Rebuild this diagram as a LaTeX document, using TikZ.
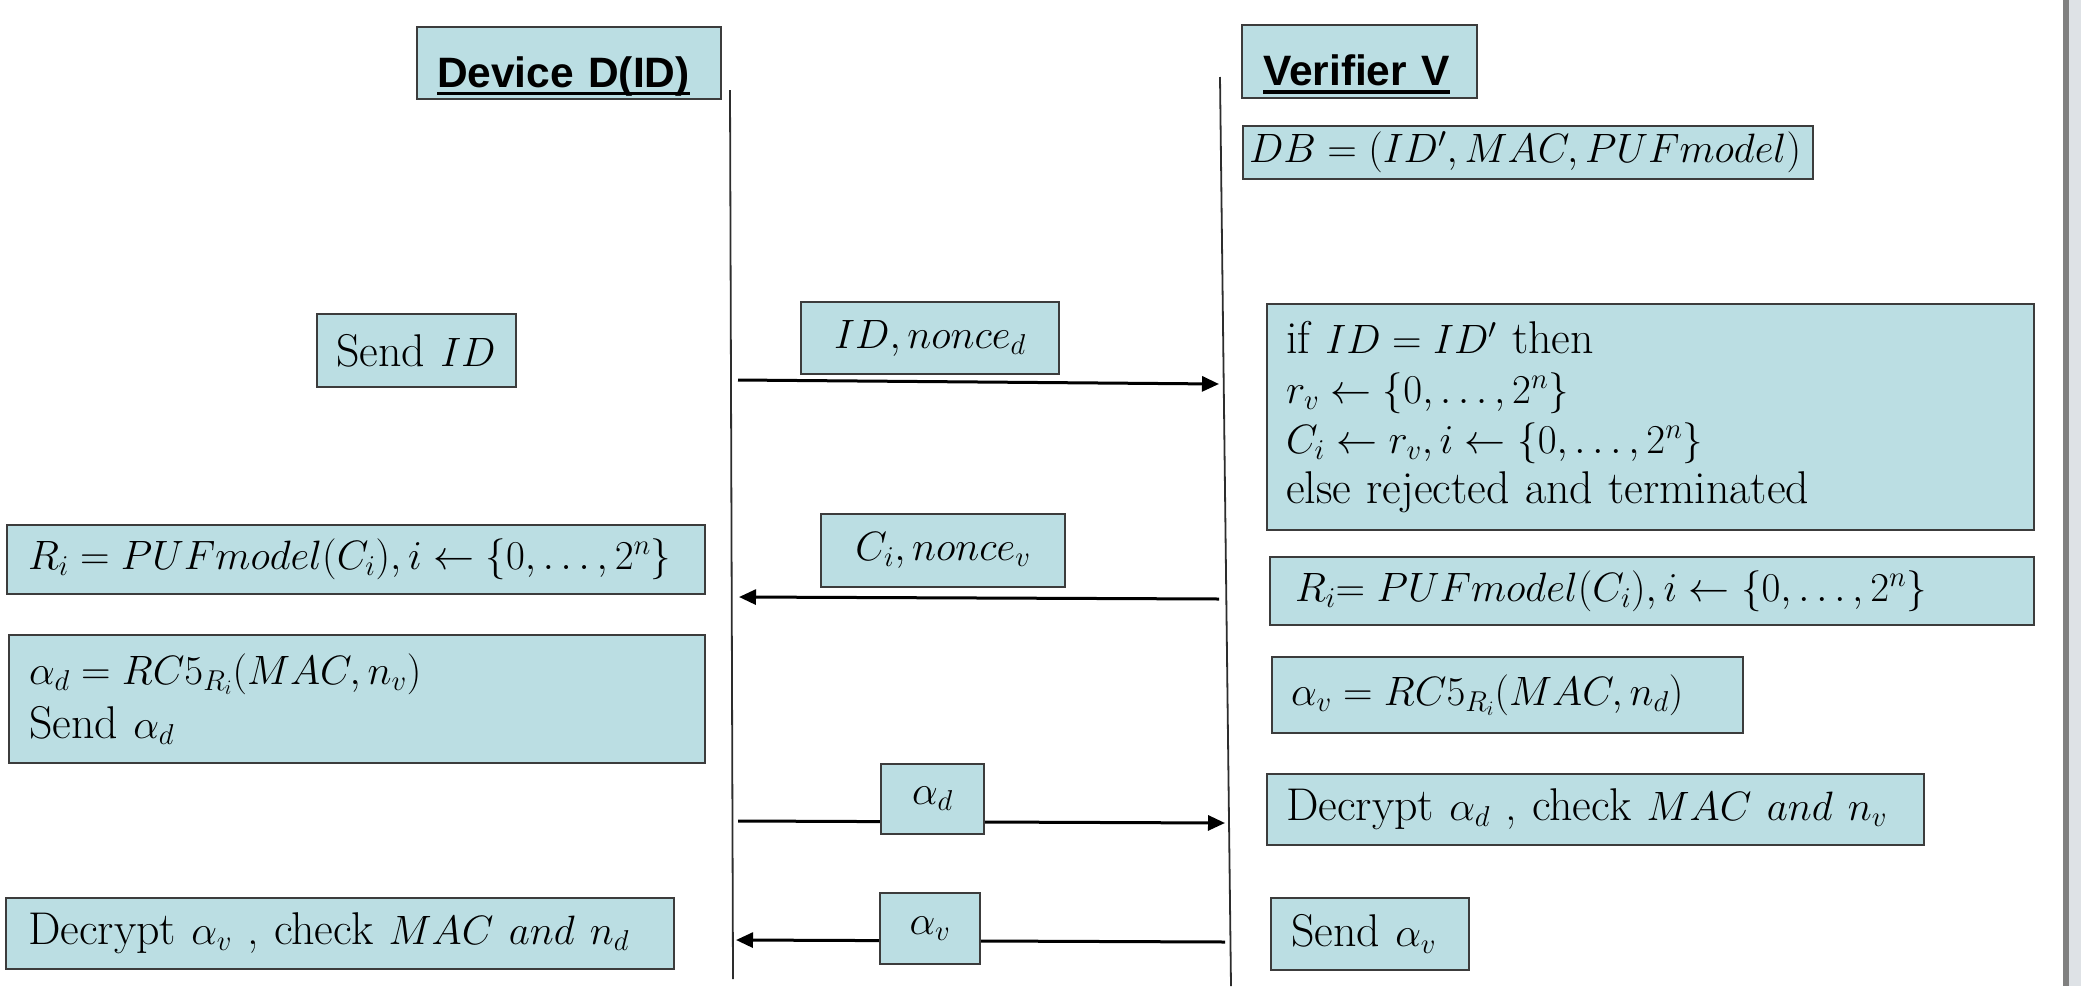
\RequirePackage{fix-cm}
\documentclass[tikz,border=0pt]{standalone}
\usepackage{fontspec}
\setmainfont{Latin Modern Roman}[Scale=1.12]
\newfontfamily\hdfont{Liberation Sans}
\usetikzlibrary{arrows.meta}

\definecolor{boxfill}{RGB}{187,222,227}
\definecolor{boxline}{RGB}{60,60,60}
\definecolor{lifecol}{RGB}{45,45,45}
\definecolor{edgedark}{RGB}{128,128,128}
\definecolor{edgelight}{RGB}{222,226,230}

% heading text with a heavy underline
\newcommand\hdline[1]{\setbox0\hbox{#1}\rlap{\rule[-8pt]{\wd0}{3.5pt}}\box0}

\begin{document}
\begin{tikzpicture}[x=1pt,y=-1pt,
  box/.style={draw=boxline, line width=2pt, fill=boxfill, inner sep=0pt,
    anchor=north west, font=\fontsize{41}{50}\selectfont},
  lbox/.style={box, align=left},
  hd/.style={box, align=left, font=\hdfont\bfseries\fontsize{42.5}{50}\selectfont,
    text height=48pt, text depth=0pt},
  life/.style={draw=lifecol, line width=1.8pt},
  msg/.style={draw=black, line width=3pt, -{Triangle[length=17pt,width=15pt]}},
]
\useasboundingbox (0,0) rectangle (2081,986);

% window edge on the right
\fill[edgedark] (2063,0) rectangle (2069,986);
\fill[edgelight] (2069,0) rectangle (2081,986);

% lifelines
\coordinate (dtop) at (730,90);
\coordinate (dbot) at (733,979);
\coordinate (vtop) at (1220,77);
\coordinate (vbot) at (1231,986);
\draw[life] (dtop) -- (dbot);
\draw[life] (vtop) -- (vbot);

% message ends on the lifelines
\coordinate (m1s) at (738,380);
\coordinate (m1e) at (1219,384);
\coordinate (m2s) at (1219,599);
\coordinate (m2e) at (739,597);
\coordinate (m3s) at (738,821);
\coordinate (m3e) at (1225,823);
\coordinate (m4s) at (1225,942);
\coordinate (m4e) at (736,940);
\draw[msg] (m1s) -- (m1e);
\draw[msg] (m2s) -- (m2e);
\draw[msg] (m3s) -- (m3e);
\draw[msg] (m4s) -- (m4e);

% participants
\node[hd, inner xsep=20pt, text width=264pt, minimum height=72pt] (dev) at (416,26)
  {\hdline{Device D(ID)}};
\node[hd, inner xsep=21pt, text width=193pt, minimum height=73pt] (ver) at (1241,24)
  {\hdline{Verifier V}};
\node[lbox, inner xsep=6pt, text width=558pt, minimum height=53pt] (db) at (1242,125)
  {$DB = (ID', MAC, PUFmodel)$};

% step 1
\node[lbox, inner xsep=19pt, text width=161pt, minimum height=73pt] (sendid) at (316,313)
  {Send $ID$};
\node[box, minimum width=258pt, minimum height=72pt] (idn) at (800,301)
  {$ID, nonce_d$};
\node[lbox, inner xsep=19pt, text width=729pt, minimum height=226pt] (chk) at (1266,303)
  {if $ID = ID'$ then\\
   $r_v \leftarrow \{0, \dots, 2^n\}$\\
   $C_i \leftarrow r_v, i \leftarrow \{0, \dots, 2^n\}$\\
   else rejected and terminated};

% step 2
\node[lbox, inner xsep=21pt, text width=656pt, minimum height=69pt] (rd) at (6,524)
  {$R_i = PUFmodel(C_i), i \leftarrow \{0, \dots, 2^n\}$};
\node[box, minimum width=244pt, minimum height=73pt] (cn) at (820,513)
  {$C_i, nonce_v$};
\node[lbox, inner xsep=25pt, text width=714pt, minimum height=68pt] (rv) at (1269,556)
  {$R_i{=}\mskip\thickmuskip PUFmodel(C_i), i \leftarrow \{0, \dots, 2^n\}$};

% step 3
\node[lbox, inner xsep=20pt, text width=656pt, minimum height=128pt] (ad) at (8,634)
  {$\alpha_d = RC5_{R_i}(MAC, n_v)$\\[4pt] Send $\alpha_d$};
\node[lbox, inner xsep=19pt, text width=433pt, minimum height=76pt] (av) at (1271,656)
  {$\alpha_v = RC5_{R_i}(MAC, n_d)$};
\node[box, minimum width=103pt, minimum height=70pt] (adm) at (880,763)
  {$\alpha_d$};
\node[lbox, inner xsep=19pt, text width=619pt, minimum height=71pt] (decd) at (1266,773)
  {Decrypt $\alpha_d$ , check $MAC\ and\ n_v$};

% step 4
\node[lbox, inner xsep=22pt, text width=624pt, minimum height=71pt] (decv) at (5,897)
  {Decrypt $\alpha_v$ , check $MAC\ and\ n_d$};
\node[box, minimum width=100pt, minimum height=71pt] (avm) at (879,892)
  {$\alpha_v$};
\node[lbox, inner xsep=20pt, text width=158pt, minimum height=72pt] (sendav) at (1270,897)
  {Send $\alpha_v$};
\end{tikzpicture}
\end{document}
